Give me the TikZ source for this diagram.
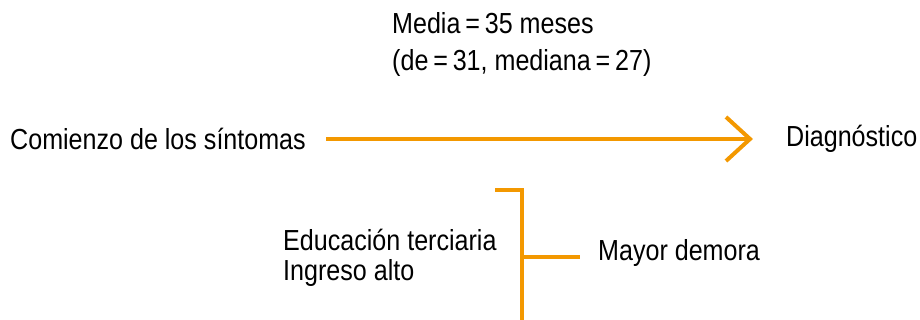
\documentclass[tikz,border=0pt]{standalone}
\usepackage{fontspec}
\setmainfont{Liberation Sans}[FakeStretch=0.865]
\definecolor{org}{HTML}{F39800}
\begin{document}
\begin{tikzpicture}[x=1pt,y=-1pt,
  lbl/.style={inner sep=0pt,anchor=west,font=\fontsize{29}{34}\selectfont},
  ln/.style={draw=org,line width=4pt}]
\useasboundingbox (0,0) rectangle (920,320);
\node[lbl] (m1) at (392,23) {Media\,=\,35 meses};
\node[lbl] (m2) at (392,63) {(de\,=\,31, mediana\,=\,27)};
\node[lbl] (start) at (10,139) {Comienzo de los síntomas};
\node[lbl] (diag) at (786,139) {Diagnóstico};
\node[lbl] (e1) at (283,240) {Educación terciaria};
\node[lbl] (e2) at (283,273) {Ingreso alto};
\node[lbl] (may) at (598,253) {Mayor demora};
\coordinate (a0) at (326,139);
\coordinate (a1) at (750,139);
\coordinate (h1) at (726,117);
\coordinate (h2) at (726,161);
\draw[ln] (a0) -- (a1);
\draw[ln] (h1) -- (a1) -- (h2);
\coordinate (b0) at (495,190);
\coordinate (b1) at (522,190);
\coordinate (b2) at (522,320);
\coordinate (b3) at (522,257);
\coordinate (b4) at (580,257);
\draw[ln] (b0) -- (b1) -- (b2);
\draw[ln] (b3) -- (b4);
\end{tikzpicture}
\end{document}
